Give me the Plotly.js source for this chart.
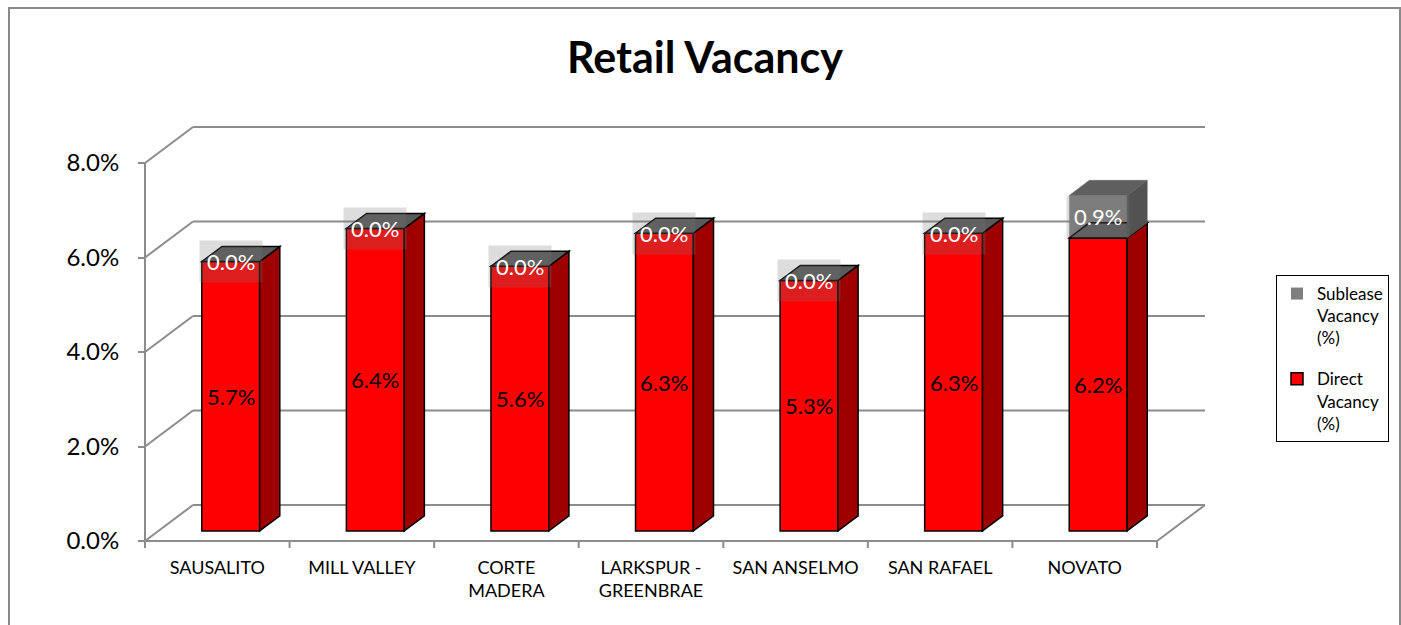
<!DOCTYPE html>
<html>
<head>
<meta charset="utf-8">
<script src="https://cdn.plot.ly/plotly-3.0.1.min.js"></script>
<style>
  html, body { margin: 0; padding: 0; background: #ffffff; }
  #wrap { position: relative; width: 1401px; height: 625px; overflow: hidden; }
  #chart { position: absolute; left: 0; top: 0; width: 1401px; height: 625px; }
  #frame { position: absolute; left: 8px; top: 7px; width: 1393px; height: 700px;
           box-sizing: border-box; border: 2px solid #8a8a8a; pointer-events: none; }
</style>
</head>
<body>
<div id="wrap">
  <div id="chart"></div>
  <div id="frame"></div>
</div>
<script>
// ---- data ----
const categories = ['SAUSALITO', 'MILL VALLEY', 'CORTE<br>MADERA', 'LARKSPUR -<br>GREENBRAE', 'SAN ANSELMO', 'SAN RAFAEL', 'NOVATO'];
const directVacancy = [5.7, 6.4, 5.6, 6.3, 5.3, 6.3, 6.2];
const subleaseVacancy = [0.0, 0.0, 0.0, 0.0, 0.0, 0.0, 0.9];
const yTicks = [0, 2, 4, 6, 8];
const yTickLabels = ['0.0%', '2.0%', '4.0%', '6.0%', '8.0%'];
const seriesNames = ['Direct<br>Vacancy<br>(%)', 'Sublease<br>Vacancy<br>(%)'];

// ---- 3D projection / layout constants ----
const FONT = 'Lato, "Liberation Sans", sans-serif';
const W = 1401, H = 625;
const M = {l: 115, r: 180, t: 120, b: 70};
const ORIGIN_PX = {x: 145, y: 541};
const PX_X = 1012 / 7;        // px per category
const PX_Y = 378 / 8;         // px per 1 %
const DEPTH_X = 48 / PX_X;    // depth offset in category units
const DEPTH_Y = 36 / PX_Y;    // depth offset in % units
const F0 = 0.28, F1 = 0.70;   // bar front/back depth fractions
const BW = 0.4;               // bar width in category units
const n = categories.length;

const x0 = -0.5 - (ORIGIN_PX.x - M.l) / PX_X;
const xRange = [x0, x0 + (W - M.l - M.r) / PX_X];
const y0 = -((H - M.b) - ORIGIN_PX.y) / PX_Y;
const yRange = [y0, y0 + (H - M.t - M.b) / PX_Y];

const idx = categories.map((c, i) => i);
const frontX = idx.map(i => i + F0 * DEPTH_X);
const baseY = F0 * DEPTH_Y;
const dX = (F1 - F0) * DEPTH_X, dY = (F1 - F0) * DEPTH_Y;

const GRID = '#8c8c8c';
const shapes = [];
function line(xa, ya, xb, yb, layer) {
  shapes.push({type: 'line', xref: 'x', yref: 'y', x0: xa, y0: ya, x1: xb, y1: yb,
               line: {color: GRID, width: 2}, layer: layer || 'below'});
}
function poly(pts, fill, outline) {
  const d = 'M' + pts.map(p => p[0] + ',' + p[1]).join(' L') + ' Z';
  shapes.push({type: 'path', xref: 'x', yref: 'y', path: d, fillcolor: fill,
               line: {color: outline || fill, width: outline ? 1.5 : 0.5}, layer: 'above'});
}

// walls / gridlines
const xl = -0.5, xr = n - 0.5;
yTicks.forEach(v => {
  line(xl, v, xl + DEPTH_X, v + DEPTH_Y);
  line(xl + DEPTH_X, v + DEPTH_Y, xr + DEPTH_X, v + DEPTH_Y);
});
line(xl, 0, xr, 0);                           // floor front edge
line(xr, 0, xr + DEPTH_X, DEPTH_Y);           // floor right edge
line(xl, 0, xl, yTicks[yTicks.length - 1]);   // value axis line
for (let k = 0; k <= n; k++) line(xl + k, 0, xl + k, -7 / PX_Y);  // category ticks

// 3D faces of the bars
idx.forEach(i => {
  const a = frontX[i] - BW / 2, b = frontX[i] + BW / 2;
  const yb = baseY, yt = baseY + directVacancy[i];
  poly([[b, yb], [b + dX, yb + dY], [b + dX, yt + dY], [b, yt]], '#9e0000', '#000000');
  poly([[a, yt], [b, yt], [b + dX, yt + dY], [a + dX, yt + dY]], '#5a5a5a', '#000000');
  const s = subleaseVacancy[i];
  if (s > 0) {
    const st = yt + s;
    poly([[b, yt], [b + dX, yt + dY], [b + dX, st + dY], [b, st]], '#525252');
    poly([[a, st], [b, st], [b + dX, st + dY], [a + dX, st + dY]], '#5f5f5f');
  }
});

// data labels
const annotations = [];
idx.forEach(i => {
  annotations.push({xref: 'x', yref: 'y', x: frontX[i], y: baseY + directVacancy[i] / 2,
    text: directVacancy[i].toFixed(1) + '%', showarrow: false,
    font: {family: FONT, size: 22, color: '#000000'}});
  annotations.push({xref: 'x', yref: 'y', x: frontX[i], y: baseY + directVacancy[i] + subleaseVacancy[i] / 2,
    text: subleaseVacancy[i].toFixed(1) + '%', showarrow: false,
    bgcolor: 'rgba(120,120,120,0.25)', borderpad: 7,
    font: {family: FONT, size: 22, color: '#ffffff'}});
});

const traces = [
  {type: 'bar', name: seriesNames[0], legendgroup: 'direct', legendrank: 2, x: frontX, y: directVacancy,
   base: directVacancy.map(() => baseY), width: BW,
   marker: {color: '#ff0000', line: {color: '#000000', width: 1.5}}, hoverinfo: 'skip'},
  {type: 'bar', name: seriesNames[1], legendgroup: 'sublease', legendrank: 1, x: frontX, y: subleaseVacancy,
   base: directVacancy.map(v => baseY + v), width: BW,
   marker: {color: '#7f7f7f', line: {color: '#7f7f7f', width: 0}}, hoverinfo: 'skip'}
];

const layout = {
  width: W, height: H,
  margin: M,
  paper_bgcolor: '#ffffff', plot_bgcolor: 'rgba(0,0,0,0)',
  barmode: 'overlay',
  title: {text: '<b>Retail Vacancy</b>', font: {family: FONT, size: 43, color: '#000000'},
          xref: 'container', yref: 'container', x: 705 / W, xanchor: 'center', y: 1 - 58 / H, yanchor: 'middle'},
  xaxis: {range: xRange, tickvals: idx, ticktext: categories, showgrid: false, zeroline: false,
          showline: false, ticks: '', tickfont: {family: FONT, size: 18, color: '#000000'}, fixedrange: true},
  yaxis: {range: yRange, tickvals: yTicks, ticktext: yTickLabels, showgrid: false,
          zeroline: false, showline: false, ticks: 'outside', ticklen: 7, tickwidth: 2, tickcolor: GRID,
          ticklabelstandoff: 14,
          anchor: 'free', position: (ORIGIN_PX.x - M.l) / (W - M.l - M.r),
          tickfont: {family: FONT, size: 24, color: '#000000'}, fixedrange: true},
  showlegend: true,
  legend: {x: (1276 - M.l) / (W - M.l - M.r), xanchor: 'left', y: ((H - M.b) - 275) / (H - M.t - M.b), yanchor: 'top',
           traceorder: 'grouped', tracegroupgap: 16, valign: 'top', bgcolor: '#ffffff',
           bordercolor: '#000000', borderwidth: 1,
           font: {family: FONT, size: 17, color: '#000000'}},
  shapes: shapes,
  annotations: annotations
};

Plotly.newPlot('chart', traces, layout, {displayModeBar: false, staticPlot: true});
</script>
</body>
</html>
